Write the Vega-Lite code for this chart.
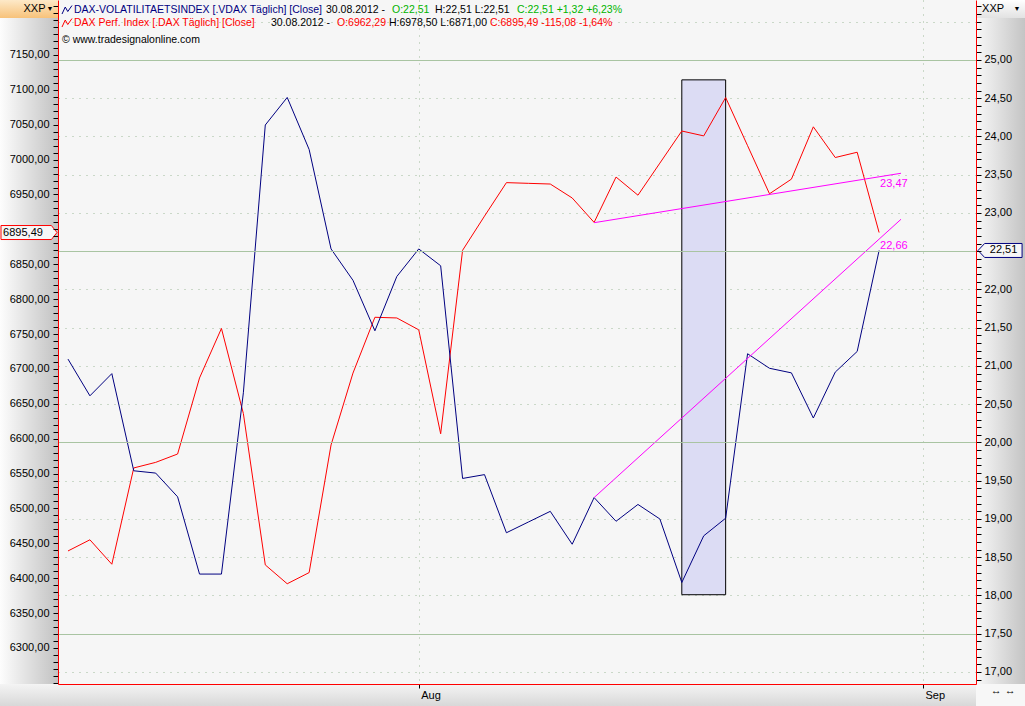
{
  "$schema": "https://vega.github.io/schema/vega-lite/v6.json",
  "width": 918,
  "height": 684,
  "padding": {"left": 58, "top": 0, "right": 49, "bottom": 22},
  "autosize": {"type": "none"},
  "background": "#ffffff",
  "config": {
    "font": "Liberation Sans",
    "locale": {"number": {"decimal": ",", "thousands": ".", "grouping": [3], "currency": ["", " €"]}},
    "view": {"fill": "#f6f6f6", "stroke": null},
    "axisX": {"gridDash": [1, 6], "gridColor": "#9fbb9a", "gridWidth": 1}
  },
  "datasets": {
    "series": [
      {"date": "2012-07-10", "i": 0, "dax": 6439, "vdax": 21.09},
      {"date": "2012-07-11", "i": 1, "dax": 6455, "vdax": 20.61},
      {"date": "2012-07-12", "i": 2, "dax": 6420, "vdax": 20.90},
      {"date": "2012-07-13", "i": 3, "dax": 6558, "vdax": 19.63},
      {"date": "2012-07-16", "i": 4, "dax": 6566, "vdax": 19.60},
      {"date": "2012-07-17", "i": 5, "dax": 6578, "vdax": 19.29},
      {"date": "2012-07-18", "i": 6, "dax": 6687, "vdax": 18.28},
      {"date": "2012-07-19", "i": 7, "dax": 6758, "vdax": 18.28},
      {"date": "2012-07-20", "i": 8, "dax": 6636, "vdax": 20.65},
      {"date": "2012-07-23", "i": 9, "dax": 6419, "vdax": 24.15},
      {"date": "2012-07-24", "i": 10, "dax": 6392, "vdax": 24.51},
      {"date": "2012-07-25", "i": 11, "dax": 6408, "vdax": 23.83},
      {"date": "2012-07-26", "i": 12, "dax": 6591, "vdax": 22.53},
      {"date": "2012-07-27", "i": 13, "dax": 6694, "vdax": 22.12},
      {"date": "2012-07-30", "i": 14, "dax": 6774, "vdax": 21.46},
      {"date": "2012-07-31", "i": 15, "dax": 6773, "vdax": 22.17},
      {"date": "2012-08-01", "i": 16, "dax": 6756, "vdax": 22.53},
      {"date": "2012-08-02", "i": 17, "dax": 6607, "vdax": 22.31},
      {"date": "2012-08-03", "i": 18, "dax": 6870, "vdax": 19.53},
      {"date": "2012-08-06", "i": 19, "dax": 6919, "vdax": 19.58},
      {"date": "2012-08-07", "i": 20, "dax": 6967, "vdax": 18.82},
      {"date": "2012-08-08", "i": 21, "dax": 6966, "vdax": 18.96},
      {"date": "2012-08-09", "i": 22, "dax": 6965, "vdax": 19.10},
      {"date": "2012-08-10", "i": 23, "dax": 6945, "vdax": 18.67},
      {"date": "2012-08-13", "i": 24, "dax": 6910, "vdax": 19.28},
      {"date": "2012-08-14", "i": 25, "dax": 6975, "vdax": 18.97},
      {"date": "2012-08-15", "i": 26, "dax": 6949, "vdax": 19.19},
      {"date": "2012-08-16", "i": 27, "dax": 6995, "vdax": 19.00},
      {"date": "2012-08-17", "i": 28, "dax": 7041, "vdax": 18.17},
      {"date": "2012-08-20", "i": 29, "dax": 7034, "vdax": 18.78},
      {"date": "2012-08-21", "i": 30, "dax": 7089, "vdax": 19.01},
      {"date": "2012-08-22", "i": 31, "dax": 7020, "vdax": 21.16},
      {"date": "2012-08-23", "i": 32, "dax": 6951, "vdax": 20.97},
      {"date": "2012-08-24", "i": 33, "dax": 6972, "vdax": 20.91},
      {"date": "2012-08-27", "i": 34, "dax": 7047, "vdax": 20.32},
      {"date": "2012-08-28", "i": 35, "dax": 7003, "vdax": 20.92},
      {"date": "2012-08-29", "i": 36, "dax": 7010.57, "vdax": 21.19},
      {"date": "2012-08-30", "i": 37, "dax": 6895.49, "vdax": 22.51}
    ],
    "trend": [
      {"t": "a", "i": 24, "v": 22.873},
      {"t": "a", "i": 38, "v": 23.519},
      {"t": "b", "i": 24, "v": 19.28},
      {"t": "b", "i": 38, "v": 22.918}
    ],
    "trendLabels": [
      {"t": "a", "i": 37, "v": 23.47},
      {"t": "b", "i": 37, "v": 22.66}
    ],
    "box": [
      {"i1": 28, "i2": 30, "v1": 24.74, "v2": 18.01}
    ]
  },
  "resolve": {"scale": {"y": "independent"}},
  "layer": [
    {
      "data": {"values": [{}]},
      "mark": {"type": "rect", "fill": {"gradient": "linear", "x1": 0, "y1": 0, "x2": 1, "y2": 0, "stops": [{"offset": 0, "color": "#fdfdfd"}, {"offset": 1, "color": "#c2c2c2"}]}},
      "encoding": {
        "x": {"datum": -3.102, "type": "quantitative", "scale": {"domain": [-0.456, 41.42], "nice": false, "zero": false},
          "axis": {"orient": "bottom", "title": null, "values": [16, 39], "labelExpr": "datum.value == 16 ? 'Aug' : 'Sep'", "grid": true, "gridDash": [1, 6], "gridColor": "#9fbb9a", "domainColor": "#ff0000", "tickColor": "#000000", "tickSize": 4, "labelAlign": "left", "labelOffset": 2, "labelPadding": 1, "labelFontSize": 11, "labelColor": "#000000", "labelFlush": false, "zindex": 1}},
        "x2": {"datum": -0.456},
        "y": {"datum": 25.784, "type": "quantitative", "scale": {"domain": [16.843, 25.784], "nice": false, "zero": false}, "axis": null},
        "y2": {"datum": 16.843}
      }
    },
    {
      "data": {"values": [{}]},
      "mark": {"type": "rect", "fill": {"gradient": "linear", "x1": 0, "y1": 0, "x2": 1, "y2": 0, "stops": [{"offset": 0, "color": "#f8f8f8"}, {"offset": 1, "color": "#c4c4c4"}]}},
      "encoding": {
        "x": {"datum": 41.42, "type": "quantitative", "scale": {"domain": [-0.456, 41.42], "nice": false, "zero": false}},
        "x2": {"datum": 43.66},
        "y": {"datum": 25.784, "type": "quantitative", "scale": {"domain": [16.843, 25.784], "nice": false, "zero": false}, "axis": null},
        "y2": {"datum": 16.843}
      }
    },
    {
      "data": {"values": [{}]},
      "mark": {"type": "rect", "fill": {"gradient": "linear", "x1": 0, "y1": 0, "x2": 0, "y2": 1, "stops": [{"offset": 0, "color": "#f4f4f4"}, {"offset": 1, "color": "#d8d8d8"}]}},
      "encoding": {
        "x": {"datum": -3.102, "type": "quantitative", "scale": {"domain": [-0.456, 41.42], "nice": false, "zero": false}},
        "x2": {"datum": 41.42},
        "y": {"datum": 16.843, "type": "quantitative", "scale": {"domain": [16.843, 25.784], "nice": false, "zero": false}, "axis": null},
        "y2": {"datum": 16.555}
      }
    },
    {
      "data": {"values": [{}]},
      "mark": {"type": "rect", "fill": "#f7f7f7"},
      "encoding": {
        "x": {"datum": 41.42, "type": "quantitative", "scale": {"domain": [-0.456, 41.42], "nice": false, "zero": false}},
        "x2": {"datum": 43.66},
        "y": {"datum": 16.843, "type": "quantitative", "scale": {"domain": [16.843, 25.784], "nice": false, "zero": false}, "axis": null},
        "y2": {"datum": 16.555}
      }
    },
    {
      "data": {"values": [{}]},
      "mark": {"type": "rect", "fill": {"gradient": "linear", "x1": 0, "y1": 0, "x2": 0, "y2": 1, "stops": [{"offset": 0, "color": "#fde9c8"}, {"offset": 1, "color": "#f7c27a"}]}},
      "encoding": {
        "x": {"datum": -3.102, "type": "quantitative", "scale": {"domain": [-0.456, 41.42], "nice": false, "zero": false}},
        "x2": {"datum": -0.456},
        "y": {"datum": 25.784, "type": "quantitative", "scale": {"domain": [16.843, 25.784], "nice": false, "zero": false}, "axis": null},
        "y2": {"datum": 25.549}
      }
    },
    {
      "data": {"values": [{}]},
      "mark": {"type": "rect", "fill": {"gradient": "linear", "x1": 0, "y1": 0, "x2": 0, "y2": 1, "stops": [{"offset": 0, "color": "#ffffff"}, {"offset": 1, "color": "#e2e2e2"}]}},
      "encoding": {
        "x": {"datum": 41.42, "type": "quantitative", "scale": {"domain": [-0.456, 41.42], "nice": false, "zero": false}},
        "x2": {"datum": 43.66},
        "y": {"datum": 25.784, "type": "quantitative", "scale": {"domain": [16.843, 25.784], "nice": false, "zero": false}, "axis": null},
        "y2": {"datum": 25.549}
      }
    },
    {
      "data": {"name": "box"},
      "mark": {"type": "rect", "fill": "#dcdcf4", "stroke": "#000000", "strokeWidth": 1},
      "encoding": {
        "x": {"field": "i1", "type": "quantitative", "scale": {"domain": [-0.456, 41.42], "nice": false, "zero": false}},
        "x2": {"field": "i2"},
        "y": {"field": "v1", "type": "quantitative", "scale": {"domain": [16.843, 25.784], "nice": false, "zero": false},
          "axis": {"orient": "right", "title": null, "labels": false, "ticks": false, "domain": false, "grid": true, "gridDash": [1, 6], "gridColor": "#9fbb9a", "gridWidth": 1, "maxExtent": 0, "minExtent": 0,
            "values": [17, 17.5, 18, 18.5, 19, 19.5, 20, 20.5, 21, 21.5, 22, 22.5, 23, 23.5, 24, 24.5, 25, 25.5]}},
        "y2": {"field": "v2"}
      }
    },
    {
      "data": {"values": [{}]},
      "mark": {"type": "text", "align": "center", "baseline": "middle", "fontSize": 11, "color": "#000000"},
      "encoding": {
        "x": {"datum": -1.528, "type": "quantitative", "scale": {"domain": [-0.456, 41.42], "nice": false, "zero": false}},
        "y": {"datum": 25.666, "type": "quantitative", "scale": {"domain": [16.843, 25.784], "nice": false, "zero": false}, "axis": null},
        "text": {"value": "XXP"}
      }
    },
    {
      "data": {"values": [{}]},
      "mark": {"type": "text", "align": "center", "baseline": "middle", "fontSize": 7, "color": "#000000"},
      "encoding": {
        "x": {"datum": -0.821, "type": "quantitative", "scale": {"domain": [-0.456, 41.42], "nice": false, "zero": false}},
        "y": {"datum": 25.666, "type": "quantitative", "scale": {"domain": [16.843, 25.784], "nice": false, "zero": false}, "axis": null},
        "text": {"value": "▼"}
      }
    },
    {
      "data": {"values": [{}]},
      "mark": {"type": "text", "align": "center", "baseline": "middle", "fontSize": 11, "color": "#000000"},
      "encoding": {
        "x": {"datum": 42.2, "type": "quantitative", "scale": {"domain": [-0.456, 41.42], "nice": false, "zero": false}},
        "y": {"datum": 25.666, "type": "quantitative", "scale": {"domain": [16.843, 25.784], "nice": false, "zero": false}, "axis": null},
        "text": {"value": "XXP"}
      }
    },
    {
      "data": {"values": [{}]},
      "mark": {"type": "text", "align": "center", "baseline": "middle", "fontSize": 7, "color": "#000000"},
      "encoding": {
        "x": {"datum": 43.29, "type": "quantitative", "scale": {"domain": [-0.456, 41.42], "nice": false, "zero": false}},
        "y": {"datum": 25.666, "type": "quantitative", "scale": {"domain": [16.843, 25.784], "nice": false, "zero": false}, "axis": null},
        "text": {"value": "▼"}
      }
    },
    {
      "data": {"values": [{}]},
      "mark": {"type": "text", "align": "center", "baseline": "middle", "fontSize": 11, "color": "#000000"},
      "encoding": {
        "x": {"datum": 42.66, "type": "quantitative", "scale": {"domain": [-0.456, 41.42], "nice": false, "zero": false}},
        "y": {"datum": 16.745, "type": "quantitative", "scale": {"domain": [16.843, 25.784], "nice": false, "zero": false}, "axis": null},
        "text": {"value": "↔ ↔"}
      }
    },
    {
      "data": {"name": "series"},
      "mark": {"type": "line", "color": "#ff0000", "strokeWidth": 1},
      "encoding": {
        "x": {"field": "i", "type": "quantitative", "scale": {"domain": [-0.456, 41.42], "nice": false, "zero": false}},
        "y": {"field": "dax", "type": "quantitative", "scale": {"domain": [6248.3, 7228.8], "nice": false, "zero": false},
          "axis": {"orient": "left", "title": null, "format": ".2f", "grid": false, "domainColor": "#ff0000", "tickColor": "#000000", "tickSize": 5, "labelPadding": 4, "labelFontSize": 11, "labelColor": "#000000", "labelOverlap": false, "zindex": 1,
            "labelExpr": "(datum.value % 50 == 0 && datum.value >= 6300 && datum.value <= 7150 && datum.value != 6900) ? datum.label : ''",
            "values": [6250,6260,6270,6280,6290,6300,6310,6320,6330,6340,6350,6360,6370,6380,6390,6400,6410,6420,6430,6440,6450,6460,6470,6480,6490,6500,6510,6520,6530,6540,6550,6560,6570,6580,6590,6600,6610,6620,6630,6640,6650,6660,6670,6680,6690,6700,6710,6720,6730,6740,6750,6760,6770,6780,6790,6800,6810,6820,6830,6840,6850,6860,6870,6880,6890,6900,6910,6920,6930,6940,6950,6960,6970,6980,6990,7000,7010,7020,7030,7040,7050,7060,7070,7080,7090,7100,7110,7120,7130,7140,7150,7160,7170,7180,7190,7200,7210,7220]}}
      }
    },
    {
      "data": {"name": "series"},
      "transform": [{"filter": "datum.i == 37"}],
      "mark": {"type": "point", "shape": "M-1,-0.25H0.8L1,0L0.8,0.25H-1Z", "size": 3136, "filled": true, "fill": "#f6f6f6", "stroke": "#ff0000", "strokeWidth": 1, "opacity": 1},
      "encoding": {
        "x": {"datum": -1.779, "type": "quantitative", "scale": {"domain": [-0.456, 41.42], "nice": false, "zero": false}},
        "y": {"field": "dax", "type": "quantitative", "scale": {"domain": [6248.3, 7228.8], "nice": false, "zero": false}, "axis": null}
      }
    },
    {
      "data": {"name": "series"},
      "transform": [{"filter": "datum.i == 37"}],
      "mark": {"type": "text", "align": "center", "baseline": "middle", "fontSize": 11, "color": "#000000"},
      "encoding": {
        "x": {"datum": -2.053, "type": "quantitative", "scale": {"domain": [-0.456, 41.42], "nice": false, "zero": false}},
        "y": {"field": "dax", "type": "quantitative", "scale": {"domain": [6248.3, 7228.8], "nice": false, "zero": false}, "axis": null},
        "text": {"field": "dax", "type": "quantitative", "format": ".2f"}
      }
    },
    {
      "data": {"name": "series"},
      "mark": {"type": "line", "color": "#000080", "strokeWidth": 1},
      "encoding": {
        "x": {"field": "i", "type": "quantitative", "scale": {"domain": [-0.456, 41.42], "nice": false, "zero": false}},
        "y": {"field": "vdax", "type": "quantitative", "scale": {"domain": [16.843, 25.784], "nice": false, "zero": false},
          "axis": {"orient": "right", "title": null, "format": ".2f", "grid": false, "domainColor": "#ff0000", "tickColor": "#000000", "tickSize": 5, "labelPadding": 3, "labelFontSize": 11, "labelColor": "#000000", "labelOverlap": false, "zindex": 1,
            "labelExpr": "(abs(datum.value * 2 - round(datum.value * 2)) < 0.001 && datum.value > 16.99 && datum.value < 25.01 && abs(datum.value - 22.5) > 0.01) ? datum.label : ''",
            "values": [16.9,17,17.1,17.2,17.3,17.4,17.5,17.6,17.7,17.8,17.9,18,18.1,18.2,18.3,18.4,18.5,18.6,18.7,18.8,18.9,19,19.1,19.2,19.3,19.4,19.5,19.6,19.7,19.8,19.9,20,20.1,20.2,20.3,20.4,20.5,20.6,20.7,20.8,20.9,21,21.1,21.2,21.3,21.4,21.5,21.6,21.7,21.8,21.9,22,22.1,22.2,22.3,22.4,22.5,22.6,22.7,22.8,22.9,23,23.1,23.2,23.3,23.4,23.5,23.6,23.7,23.8,23.9,24,24.1,24.2,24.3,24.4,24.5,24.6,24.7,24.8,24.9,25,25.1,25.2,25.3,25.4,25.5,25.6,25.7]}}
      }
    },
    {
      "data": {"name": "trend"},
      "mark": {"type": "line", "color": "#ff00ff", "strokeWidth": 1},
      "encoding": {
        "x": {"field": "i", "type": "quantitative", "scale": {"domain": [-0.456, 41.42], "nice": false, "zero": false}},
        "y": {"field": "v", "type": "quantitative", "scale": {"domain": [16.843, 25.784], "nice": false, "zero": false},
          "axis": {"orient": "right", "title": null, "labels": false, "ticks": false, "domain": false, "grid": true, "gridColor": "#a9c4a2", "gridWidth": 1, "maxExtent": 0, "minExtent": 0, "zindex": 1,
            "values": [17.5, 20, 22.5, 25]}},
        "detail": {"field": "t"}
      }
    },
    {
      "data": {"name": "trendLabels"},
      "mark": {"type": "text", "align": "left", "baseline": "top", "dx": 1, "dy": 1, "fontSize": 11, "color": "#ff00ff"},
      "encoding": {
        "x": {"field": "i", "type": "quantitative", "scale": {"domain": [-0.456, 41.42], "nice": false, "zero": false}},
        "y": {"field": "v", "type": "quantitative", "scale": {"domain": [16.843, 25.784], "nice": false, "zero": false}, "axis": null},
        "text": {"field": "v", "type": "quantitative", "format": ".2f"}
      }
    },
    {
      "data": {"name": "series"},
      "transform": [{"filter": "datum.i == 37"}],
      "mark": {"type": "point", "shape": "M-1,0L-0.7,-0.318H1V0.318H-0.7Z", "size": 1936, "filled": true, "fill": "#f6f6f6", "stroke": "#000080", "strokeWidth": 1, "opacity": 1},
      "encoding": {
        "x": {"datum": 42.518, "type": "quantitative", "scale": {"domain": [-0.456, 41.42], "nice": false, "zero": false}},
        "y": {"field": "vdax", "type": "quantitative", "scale": {"domain": [16.843, 25.784], "nice": false, "zero": false}, "axis": null}
      }
    },
    {
      "data": {"name": "series"},
      "transform": [{"filter": "datum.i == 37"}],
      "mark": {"type": "text", "align": "center", "baseline": "middle", "fontSize": 11, "color": "#000000"},
      "encoding": {
        "x": {"datum": 42.678, "type": "quantitative", "scale": {"domain": [-0.456, 41.42], "nice": false, "zero": false}},
        "y": {"field": "vdax", "type": "quantitative", "scale": {"domain": [16.843, 25.784], "nice": false, "zero": false}, "axis": null},
        "text": {"field": "vdax", "type": "quantitative", "format": ".2f"}
      }
    },
    {
      "data": {"values": [{}]},
      "mark": {"type": "point", "shape": "M-1,0.8L-0.35,-0.6L0.15,0.3L1,-0.9", "size": 100, "filled": false, "stroke": "#000080", "strokeWidth": 1, "opacity": 1},
      "encoding": {
        "x": {"datum": -0.045, "type": "quantitative", "scale": {"domain": [-0.456, 41.42], "nice": false, "zero": false}},
        "y": {"datum": 25.653, "type": "quantitative", "scale": {"domain": [16.843, 25.784], "nice": false, "zero": false}, "axis": null}
      }
    },
    {
      "data": {"values": [{}]},
      "mark": {"type": "point", "shape": "M-1,0.8L-0.35,-0.6L0.15,0.3L1,-0.9", "size": 100, "filled": false, "stroke": "#ff0000", "strokeWidth": 1, "opacity": 1},
      "encoding": {
        "x": {"datum": -0.045, "type": "quantitative", "scale": {"domain": [-0.456, 41.42], "nice": false, "zero": false}},
        "y": {"datum": 25.483, "type": "quantitative", "scale": {"domain": [16.843, 25.784], "nice": false, "zero": false}, "axis": null}
      }
    },
    {
      "data": {"values": [{}]},
      "mark": {"type": "text", "align": "left", "baseline": "middle", "fontSize": 10.5, "color": "#000080"},
      "encoding": {
        "x": {"datum": 0.274, "type": "quantitative", "scale": {"domain": [-0.456, 41.42], "nice": false, "zero": false}},
        "y": {"datum": 25.653, "type": "quantitative", "scale": {"domain": [16.843, 25.784], "nice": false, "zero": false}, "axis": null},
        "text": {"value": "DAX-VOLATILITAETSINDEX [.VDAX  Täglich] [Close]"}
      }
    },
    {
      "data": {"values": [{}]},
      "mark": {"type": "text", "align": "left", "baseline": "middle", "fontSize": 10.5, "color": "#000000"},
      "encoding": {
        "x": {"datum": 11.77, "type": "quantitative", "scale": {"domain": [-0.456, 41.42], "nice": false, "zero": false}},
        "y": {"datum": 25.653, "type": "quantitative", "scale": {"domain": [16.843, 25.784], "nice": false, "zero": false}, "axis": null},
        "text": {"value": "30.08.2012 -"}
      }
    },
    {
      "data": {"values": [{}]},
      "mark": {"type": "text", "align": "left", "baseline": "middle", "fontSize": 10.5, "color": "#00b400"},
      "encoding": {
        "x": {"datum": 14.78, "type": "quantitative", "scale": {"domain": [-0.456, 41.42], "nice": false, "zero": false}},
        "y": {"datum": 25.653, "type": "quantitative", "scale": {"domain": [16.843, 25.784], "nice": false, "zero": false}, "axis": null},
        "text": {"value": "O:22,51"}
      }
    },
    {
      "data": {"values": [{}]},
      "mark": {"type": "text", "align": "left", "baseline": "middle", "fontSize": 10.5, "color": "#000000"},
      "encoding": {
        "x": {"datum": 16.74, "type": "quantitative", "scale": {"domain": [-0.456, 41.42], "nice": false, "zero": false}},
        "y": {"datum": 25.653, "type": "quantitative", "scale": {"domain": [16.843, 25.784], "nice": false, "zero": false}, "axis": null},
        "text": {"value": "H:22,51 L:22,51"}
      }
    },
    {
      "data": {"values": [{}]},
      "mark": {"type": "text", "align": "left", "baseline": "middle", "fontSize": 10.5, "color": "#00b400"},
      "encoding": {
        "x": {"datum": 20.48, "type": "quantitative", "scale": {"domain": [-0.456, 41.42], "nice": false, "zero": false}},
        "y": {"datum": 25.653, "type": "quantitative", "scale": {"domain": [16.843, 25.784], "nice": false, "zero": false}, "axis": null},
        "text": {"value": "C:22,51 +1,32 +6,23%"}
      }
    },
    {
      "data": {"values": [{}]},
      "mark": {"type": "text", "align": "left", "baseline": "middle", "fontSize": 10.5, "color": "#ff0000"},
      "encoding": {
        "x": {"datum": 0.274, "type": "quantitative", "scale": {"domain": [-0.456, 41.42], "nice": false, "zero": false}},
        "y": {"datum": 25.483, "type": "quantitative", "scale": {"domain": [16.843, 25.784], "nice": false, "zero": false}, "axis": null},
        "text": {"value": "DAX Perf. Index [.DAX  Täglich] [Close]"}
      }
    },
    {
      "data": {"values": [{}]},
      "mark": {"type": "text", "align": "left", "baseline": "middle", "fontSize": 10.5, "color": "#000000"},
      "encoding": {
        "x": {"datum": 9.26, "type": "quantitative", "scale": {"domain": [-0.456, 41.42], "nice": false, "zero": false}},
        "y": {"datum": 25.483, "type": "quantitative", "scale": {"domain": [16.843, 25.784], "nice": false, "zero": false}, "axis": null},
        "text": {"value": "30.08.2012 -"}
      }
    },
    {
      "data": {"values": [{}]},
      "mark": {"type": "text", "align": "left", "baseline": "middle", "fontSize": 10.5, "color": "#ff0000"},
      "encoding": {
        "x": {"datum": 12.27, "type": "quantitative", "scale": {"domain": [-0.456, 41.42], "nice": false, "zero": false}},
        "y": {"datum": 25.483, "type": "quantitative", "scale": {"domain": [16.843, 25.784], "nice": false, "zero": false}, "axis": null},
        "text": {"value": "O:6962,29"}
      }
    },
    {
      "data": {"values": [{}]},
      "mark": {"type": "text", "align": "left", "baseline": "middle", "fontSize": 10.5, "color": "#000000"},
      "encoding": {
        "x": {"datum": 14.64, "type": "quantitative", "scale": {"domain": [-0.456, 41.42], "nice": false, "zero": false}},
        "y": {"datum": 25.483, "type": "quantitative", "scale": {"domain": [16.843, 25.784], "nice": false, "zero": false}, "axis": null},
        "text": {"value": "H:6978,50 L:6871,00"}
      }
    },
    {
      "data": {"values": [{}]},
      "mark": {"type": "text", "align": "left", "baseline": "middle", "fontSize": 10.5, "color": "#ff0000"},
      "encoding": {
        "x": {"datum": 19.25, "type": "quantitative", "scale": {"domain": [-0.456, 41.42], "nice": false, "zero": false}},
        "y": {"datum": 25.483, "type": "quantitative", "scale": {"domain": [16.843, 25.784], "nice": false, "zero": false}, "axis": null},
        "text": {"value": "C:6895,49 -115,08 -1,64%"}
      }
    },
    {
      "data": {"values": [{}]},
      "mark": {"type": "text", "align": "left", "baseline": "middle", "fontSize": 10.5, "color": "#000000"},
      "encoding": {
        "x": {"datum": -0.274, "type": "quantitative", "scale": {"domain": [-0.456, 41.42], "nice": false, "zero": false}},
        "y": {"datum": 25.255, "type": "quantitative", "scale": {"domain": [16.843, 25.784], "nice": false, "zero": false}, "axis": null},
        "text": {"value": "© www.tradesignalonline.com"}
      }
    }
  ]
}
